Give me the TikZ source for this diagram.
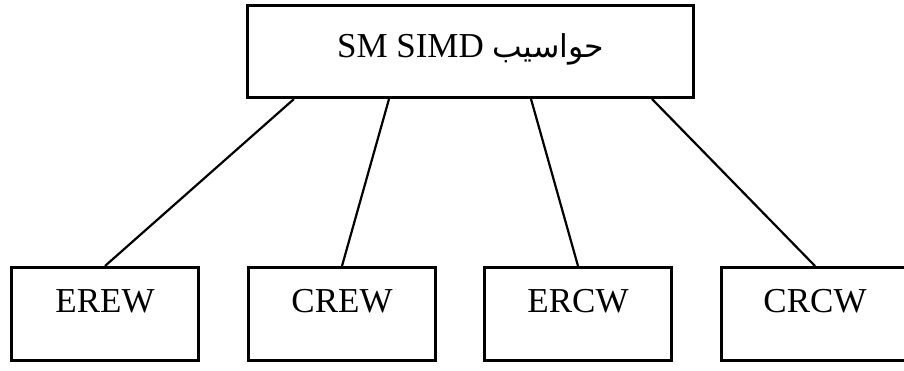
\documentclass[tikz,border=0pt]{standalone}
\usepackage{fontspec}
\setmainfont{Liberation Serif}
\newfontfamily\arabicfont[Script=Arabic,Scale=0.9]{DejaVu Sans}
\TeXXeTstate=1
\begin{document}
\begin{tikzpicture}[x=1pt,y=-1pt,
  box/.style={draw=black,line width=3pt,fill=white,inner sep=0pt,
    minimum width=187pt,minimum height=93pt,
    font=\fontsize{35}{40}\selectfont,text height=24pt,text depth=28pt},
  rootbox/.style={box,minimum width=446pt,minimum height=92pt,
    text height=24pt,text depth=11pt},
  link/.style={draw=black,line width=2.2pt}]
\useasboundingbox (0,0) rectangle (904,371);
\fill[white] (0,0) rectangle (904,371);

% root of the classification
\node[rootbox] (root) at (470.5,51.5)
  {\beginR{\arabicfont حواسيب} \beginL SM SIMD\endL\endR};

% the four memory-access models
\node[box] (erew) at (105,314) {EREW};
\node[box] (crew) at (342,314) {CREW};
\node[box] (ercw) at (578,314) {ERCW};
\node[box] (crcw) at (815,314) {CRCW};

% branches from the root
\draw[link] ([xshift=-176.5pt]root.south) -- (erew.north);
\draw[link] ([xshift=-81.5pt]root.south) -- (crew.north);
\draw[link] ([xshift=60.5pt]root.south) -- (ercw.north);
\draw[link] ([xshift=181.5pt]root.south) -- (crcw.north);
\end{tikzpicture}
\end{document}
